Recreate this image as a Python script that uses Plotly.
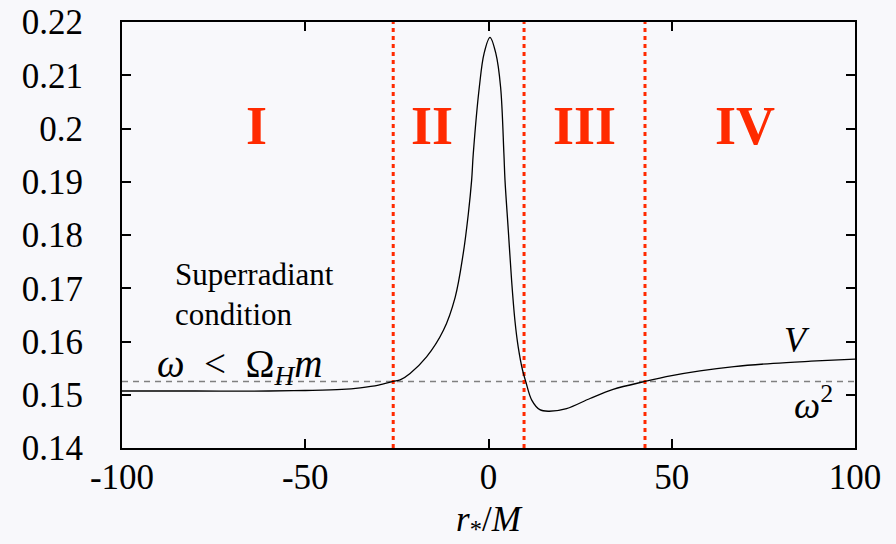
import plotly.graph_objects as go

# Potential curve V(r*/M)
r_vals = [-100, -80, -60, -50, -40, -35, -30, -26, -24.1, -21.4, -16.9, -12.3, -9.1, -6.9,
          -5.5, -4.6, -4.15, -2.5, -1.2, 0.4, 2.0, 3.3, 4.2, 4.5, 5.4, 6.3, 7.2, 8.1, 9.3,
          10.2, 11.8, 14.0, 16.3, 21.3, 27.7, 34.0, 42.7, 50.0, 57.7, 67.0, 77.7, 88.0, 100]
V_vals = [0.1507, 0.1507, 0.1507, 0.1508, 0.1510, 0.1513, 0.1518, 0.1525, 0.1528, 0.1540,
          0.1571, 0.1621, 0.1683, 0.1765, 0.1840, 0.1903, 0.1953, 0.2078, 0.2141, 0.2171,
          0.2141, 0.2078, 0.1953, 0.1903, 0.1809, 0.1715, 0.1640, 0.1590, 0.1546, 0.1524,
          0.1490, 0.1472, 0.1469, 0.1474, 0.1493, 0.1510, 0.1525, 0.1536, 0.1545, 0.1553,
          0.1559, 0.1563, 0.1567]

omega_sq = 0.1525
boundaries = [-26, 9.7, 42.7]
region_labels = ["I", "II", "III", "IV"]
region_x = [-63.2, -15.4, 26.3, 70.0]
region_y = 0.2005

x_range = [-100, 100]
y_range = [0.14, 0.22]
x_ticks = [-100, -50, 0, 50, 100]
y_ticks = [0.14, 0.15, 0.16, 0.17, 0.18, 0.19, 0.2, 0.21, 0.22]
y_ticklabels = ["0.14", "0.15", "0.16", "0.17", "0.18", "0.19", "0.2", "0.21", "0.22"]

bg = "#f8f8fb"
red = "#ff2a00"
serif = "Liberation Serif"

fig = go.Figure()

# horizontal omega^2 line
fig.add_trace(go.Scatter(x=x_range, y=[omega_sq, omega_sq], mode="lines",
                         line=dict(color="#808080", width=1.5, dash="6px,5px"),
                         hoverinfo="skip", showlegend=False))

# region boundaries
for b in boundaries:
    fig.add_trace(go.Scatter(x=[b, b], y=y_range, mode="lines",
                             line=dict(color=red, width=3, dash="4px,4px"),
                             hoverinfo="skip", showlegend=False))

# potential curve
fig.add_trace(go.Scatter(x=r_vals, y=V_vals, mode="lines",
                         line=dict(color="black", width=1.3, shape="spline", smoothing=1.0),
                         showlegend=False))

annotations = []
for lab, xx in zip(region_labels, region_x):
    annotations.append(dict(x=xx, y=region_y, text="<b>" + lab + "</b>", showarrow=False,
                            font=dict(family=serif, size=54, color=red),
                            xanchor="center", yanchor="middle"))

annotations += [
    dict(x=-86.1, y=0.1689, text="Superradiant<br>condition", showarrow=False,
         align="left", xanchor="left", yanchor="middle",
         font=dict(family=serif, size=31, color="black")),
    dict(x=-91.0, y=0.1553,
         text="<i>ω</i>&nbsp; &lt; &nbsp;Ω<sub><i>H</i></sub><i>m</i>", showarrow=False,
         xanchor="left", yanchor="middle",
         font=dict(family=serif, size=39, color="black")),
    dict(x=84.2, y=0.1602, text="<i>V</i>", showarrow=False,
         xanchor="center", yanchor="middle",
         font=dict(family=serif, size=36, color="black")),
    dict(x=88.6, y=0.1486, text="<i>ω</i><sup>2</sup>", showarrow=False,
         xanchor="center", yanchor="middle",
         font=dict(family=serif, size=37, color="black")),
]

fig.update_layout(
    width=896, height=544,
    margin=dict(l=122, r=41, t=22, b=96),
    paper_bgcolor=bg, plot_bgcolor=bg,
    annotations=annotations,
    font=dict(family=serif, color="black"),
)

fig.update_xaxes(range=x_range, tickvals=x_ticks, ticktext=[str(t) for t in x_ticks],
                 ticks="inside", ticklen=9, tickwidth=1.5, tickcolor="black",
                 showline=True, linecolor="black", linewidth=2, mirror="ticks",
                 showgrid=False, zeroline=False, automargin=False,
                 ticklabelstandoff=-3,
                 tickfont=dict(family=serif, size=35),
                 title=dict(text="<i>r</i><sub>*</sub>/<i>M</i>", font=dict(family=serif, size=35),
                            standoff=10))
fig.update_yaxes(range=y_range, tickvals=y_ticks, ticktext=y_ticklabels,
                 ticks="inside", ticklen=9, tickwidth=1.5, tickcolor="black",
                 showline=True, linecolor="black", linewidth=2, mirror="ticks",
                 showgrid=False, zeroline=False, automargin=False,
                 ticklabelstandoff=30,
                 tickfont=dict(family=serif, size=35))

fig.write_html("out.html", config={"displayModeBar": False},
               post_script="document.body.style.margin='0';document.body.style.background='#f8f8fb';")
